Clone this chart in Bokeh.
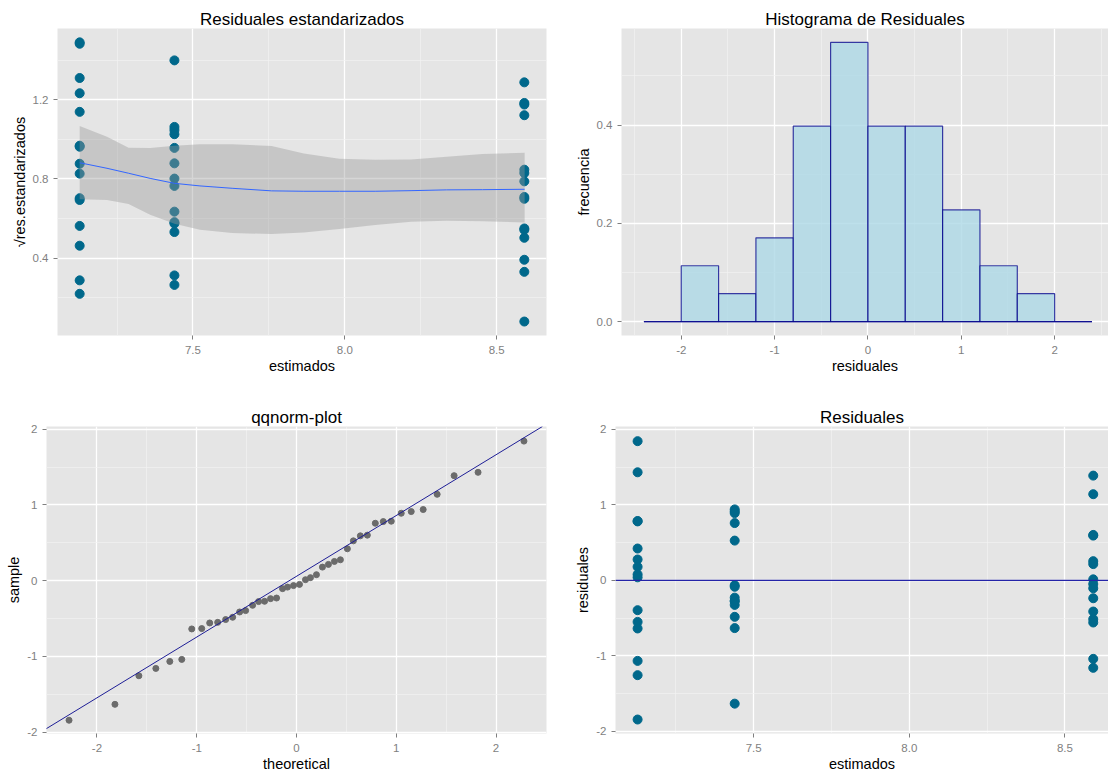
import numpy as np
from bokeh.plotting import figure
from bokeh.layouts import column, row
from bokeh.models import FixedTicker, NumeralTickFormatter, Slope, Span
from bokeh.embed import file_html
from bokeh.resources import INLINE

# ---- data -------------------------------------------------------------
# fitted value of each of the three groups
fitted_levels = [7.127, 7.439, 8.591]

# raw residuals by group
res_g1 = [1.842, 1.430, 0.785, 0.780, 0.421, 0.276, 0.179, 0.079, 0.040,
          -0.395, -0.550, -0.637, -1.066, -1.255, -1.842]
res_g2 = [0.939, 0.912, 0.890, 0.758, 0.526, -0.065, -0.085, -0.229, -0.272,
          -0.276, -0.325, -0.483, -0.632, -1.632]
res_g3 = [1.386, 1.140, 0.601, 0.592, 0.254, 0.215, 0.013, -0.049, -0.105,
          -0.237, -0.413, -0.513, -0.558, -1.039, -1.158]

# sqrt(|standardized residuals|) by group
sres_g1 = [1.490, 1.483, 1.310, 1.233, 1.139, 0.968, 0.963, 0.877, 0.827,
           0.703, 0.694, 0.563, 0.463, 0.288, 0.220]
sres_g2 = [1.399, 1.063, 1.047, 1.026, 0.957, 0.879, 0.802, 0.765, 0.635,
           0.582, 0.575, 0.532, 0.313, 0.265]
sres_g3 = [1.288, 1.184, 1.176, 1.122, 0.847, 0.830, 0.788, 0.709, 0.700,
           0.550, 0.543, 0.503, 0.392, 0.331, 0.080]

# loess smoother of sqrt(|std. residuals|) with its confidence band
smooth_x = [7.127, 7.217, 7.288, 7.359, 7.439, 7.523, 7.629, 7.759, 7.865,
            7.982, 8.100, 8.218, 8.335, 8.453, 8.592]
smooth_fit = [0.882, 0.854, 0.829, 0.803, 0.778, 0.765, 0.753, 0.740, 0.738,
              0.738, 0.738, 0.741, 0.745, 0.746, 0.748]
smooth_lo = [0.698, 0.694, 0.674, 0.619, 0.574, 0.543, 0.527, 0.522, 0.530,
             0.547, 0.567, 0.584, 0.589, 0.587, 0.580]
smooth_hi = [1.067, 1.013, 0.958, 0.956, 0.968, 0.975, 0.976, 0.966, 0.929,
             0.902, 0.897, 0.899, 0.912, 0.926, 0.932]

# normal theoretical quantiles for the 44 residuals
qq_theoretical = [-2.28, -1.82, -1.58, -1.41, -1.27, -1.15, -1.05, -0.95, -0.87,
                  -0.79, -0.71, -0.64, -0.57, -0.51, -0.44, -0.38, -0.32, -0.26,
                  -0.20, -0.14, -0.09, -0.03, 0.03, 0.09, 0.14, 0.20, 0.26, 0.32,
                  0.38, 0.44, 0.51, 0.57, 0.64, 0.71, 0.79, 0.87, 0.95, 1.05,
                  1.15, 1.27, 1.41, 1.58, 1.82, 2.28]
qq_intercept = 0.058
qq_slope = 0.802

# histogram bin edges (width 0.4)
hist_breaks = [-2.4, -2.0, -1.6, -1.2, -0.8, -0.4, 0.0, 0.4, 0.8, 1.2, 1.6, 2.0, 2.4]

# ---- derived columns --------------------------------------------------
groups_res = [res_g1, res_g2, res_g3]
groups_sres = [sres_g1, sres_g2, sres_g3]
fit_x_res = np.concatenate([[f] * len(g) for f, g in zip(fitted_levels, groups_res)])
fit_x_sres = np.concatenate([[f] * len(g) for f, g in zip(fitted_levels, groups_sres)])
all_res = np.concatenate(groups_res)
all_sres = np.concatenate(groups_sres)
qq_sample = np.sort(all_res)
dens, edges = np.histogram(all_res, bins=hist_breaks, density=True)

# ---- styling ----------------------------------------------------------
FONT = "Liberation Sans"
PANEL_BG = "#E5E5E5"
TICK_GREY = "#7F7F7F"
POINT_TEAL = "#00688B"


def style(p, xticks, xminor, yticks, yminor, xfmt, yfmt, xlabel, ylabel):
    p.background_fill_color = PANEL_BG
    p.border_fill_color = "white"
    p.outline_line_color = None
    p.title.text_font = FONT
    p.title.text_font_size = "17px"
    p.title.text_font_style = "normal"
    p.title.text_color = "black"
    p.title.align = "center"
    p.title.standoff = 0
    p.xaxis.ticker = FixedTicker(ticks=xticks, minor_ticks=xminor)
    p.yaxis.ticker = FixedTicker(ticks=yticks, minor_ticks=yminor)
    p.xaxis.formatter = NumeralTickFormatter(format=xfmt)
    p.yaxis.formatter = NumeralTickFormatter(format=yfmt)
    p.xaxis.axis_label = xlabel
    p.yaxis.axis_label = ylabel
    for ax in (p.xaxis, p.yaxis):
        ax.axis_line_color = None
        ax.major_tick_line_color = TICK_GREY
        ax.major_tick_out = 4
        ax.major_tick_in = 0
        ax.minor_tick_out = 0
        ax.minor_tick_in = 0
        ax.major_label_text_color = TICK_GREY
        ax.major_label_text_font = FONT
        ax.major_label_text_font_size = "11.5px"
        ax.axis_label_text_font = FONT
        ax.axis_label_text_font_size = "14.5px"
        ax.axis_label_text_font_style = "normal"
        ax.axis_label_text_color = "black"
    p.xaxis.major_label_standoff = 6
    p.yaxis.major_label_standoff = 5
    p.xaxis.axis_label_standoff = 1
    p.yaxis.axis_label_standoff = 2
    for g in (p.xgrid, p.ygrid):
        g.grid_line_color = "white"
        g.grid_line_width = 1.3
        g.minor_grid_line_color = "#F2F2F2"
        g.minor_grid_line_width = 0.7
        g.level = "underlay"


def make(title, w, h, left, right, top, bottom, xr, yr):
    p = figure(width=w, height=h, title=title, x_range=xr, y_range=yr,
               output_backend="svg", toolbar_location=None, tools="")
    p.min_border_left = left
    p.min_border_right = right
    p.min_border_top = top
    p.min_border_bottom = bottom
    return p


# ---- panel 1: sqrt(|standardized residuals|) vs fitted -----------------
p1 = make("Residuales estandarizados", 560, 390, 57, 14, 28, 55,
          (7.054, 8.664), (0.0095, 1.56))
style(p1, [7.5, 8.0, 8.5], [7.25, 7.75, 8.25], [0.4, 0.8, 1.2], [0.2, 0.6, 1.0, 1.4],
      "0.0", "0.0", "estimados", "\u221ares.estandarizados")
p1.scatter(fit_x_sres, all_sres, size=9, color=POINT_TEAL)
p1.varea(x=smooth_x, y1=smooth_lo, y2=smooth_hi, fill_color="#999999", fill_alpha=0.4)
p1.line(smooth_x, smooth_fit, line_color="#3366FF", line_width=1)

# ---- panel 2: histogram of residuals ----------------------------------
p2 = make("Histograma de Residuales", 548, 390, 61, 0, 28, 55,
          (-2.64, 2.577), (-0.0284, 0.5966))
style(p2, [-2, -1, 0, 1, 2], [-2.5, -1.5, -0.5, 0.5, 1.5, 2.5], [0.0, 0.2, 0.4], [0.1, 0.3, 0.5],
      "0", "0.0", "residuales", "frecuencia")
p2.quad(left=edges[:-1], right=edges[1:], bottom=0, top=dens,
        fill_color="#ADD8E6", fill_alpha=0.8, line_color="#00008B", line_alpha=0.75, line_width=1.2)
p2.segment(x0=edges[0], x1=edges[-1], y0=0, y1=0, line_color="#00008B", line_alpha=0.75, line_width=1.2)

# ---- panel 3: normal qq plot ------------------------------------------
p3 = make("qqnorm-plot", 560, 384, 46, 14, 36, 41,
          (-2.506, 2.506), (-2.017, 2.035))
style(p3, [-2, -1, 0, 1, 2], [-1.5, -0.5, 0.5, 1.5], [-2, -1, 0, 1, 2], [-1.5, -0.5, 0.5, 1.5],
      "0", "0", "theoretical", "sample")
p3.scatter(qq_theoretical, qq_sample, size=6, color="#6B6B6B")
p3.add_layout(Slope(gradient=qq_slope, y_intercept=qq_intercept,
                    line_color="#1E1E96", line_width=1))

# ---- panel 4: residuals vs fitted -------------------------------------
p4 = make("Residuales", 548, 384, 55, 0, 36, 41,
          (7.056, 8.64), (-2.027, 2.036))
style(p4, [7.5, 8.0, 8.5], [7.25, 7.75, 8.25], [-2, -1, 0, 1, 2], [-1.5, -0.5, 0.5, 1.5],
      "0.0", "0", "estimados", "residuales")
p4.scatter(fit_x_res, all_res, size=9, color=POINT_TEAL)
p4.add_layout(Span(location=0, dimension="width", line_color="#2424A8", line_width=1.3))

layout = column(row(p1, p2), row(p3, p4))
open("out.html", "w").write(file_html(layout, INLINE))
